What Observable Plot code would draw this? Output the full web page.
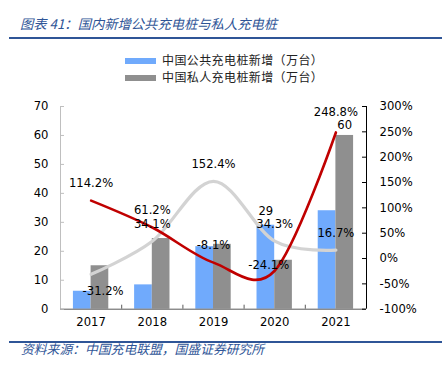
<!DOCTYPE html>
<html>
<head>
<meta charset="utf-8">
<script src="https://cdn.jsdelivr.net/npm/d3@7"></script>
<script src="https://cdn.jsdelivr.net/npm/@observablehq/plot@0.6"></script>
<style>
  html, body { margin: 0; padding: 0; background: #fff; }
  #wrap { position: relative; width: 443px; height: 371px; overflow: hidden; background: #fff; }
  .title { position: absolute; left: 20px; top: 14px; line-height: 20px; font-family: "Noto Sans CJK SC", sans-serif; font-style: italic; font-size: 13.3px; color: #2f5597; white-space: nowrap; }
  .rule { position: absolute; left: 9px; width: 433px; height: 2px; background: #2f5597; }
  .legend { position: absolute; left: 125px; font-family: "Noto Sans CJK SC", sans-serif; font-size: 12px; letter-spacing: 0.4px; color: #222; white-space: nowrap; line-height: 16px; }
  .legend span.sw { display: inline-block; width: 31px; height: 6px; vertical-align: middle; margin-right: 6px; position: relative; top: -1px; }
  .caption { position: absolute; left: 21px; top: 340px; line-height: 18px; font-family: "Noto Sans CJK SC", sans-serif; font-style: italic; font-size: 12.8px; color: #2f5597; white-space: nowrap; }
  #chart { position: absolute; left: 0; top: 90px; }
</style>
</head>
<body>
<div id="wrap">
  <div class="title">图表 41：国内新增公共充电桩与私人充电桩</div>
  <div class="rule" style="top:37px"></div>
  <div class="legend" id="leg1" style="top:52px"></div>
  <div class="legend" id="leg2" style="top:69px"></div>
  <div id="chart"></div>
  <div class="rule" style="top:341px"></div>
  <div class="caption">资料来源：中国充电联盟，国盛证券研究所</div>
</div>
<script>
// ---- data ----
const years = [2017, 2018, 2019, 2020, 2021];
const publicNew = [6.2, 8.4, 21.6, 29, 34];          // 中国公共充电桩新增（万台）
const privateNew = [15, 24.4, 22.4, 16.9, 60];        // 中国私人充电桩新增（万台）
const publicGrowth = [-31.2, 34.1, 152.4, 34.3, 16.7];   // 公共 YoY %
const privateGrowth = [114.2, 61.2, -8.1, -24.1, 248.8]; // 私人 YoY %
const leftTicks = [0, 10, 20, 30, 40, 50, 60, 70];
const rightTicks = [-100, -50, 0, 50, 100, 150, 200, 250, 300];
const seriesNames = ["中国公共充电桩新增（万台）", "中国私人充电桩新增（万台）"];
const publicLabelYears = [2020];
const privateLabelYears = [2021];

const colors = {pub: "#70aafc", pri: "#8f8f8f", pubLine: "#d3d3d3", priLine: "#c00000"};

// legend
document.getElementById("leg1").innerHTML = `<span class="sw" style="background:${colors.pub}"></span>${seriesNames[0]}`;
document.getElementById("leg2").innerHTML = `<span class="sw" style="background:${colors.pri}"></span>${seriesNames[1]}`;

const rows = years.map((year, i) => ({year, pub: publicNew[i], pri: privateNew[i], pubG: publicGrowth[i], priG: privateGrowth[i]}));

// right axis (-100%..300%) mapped onto left axis domain (0..70)
const toLeft = p => (p + 100) / 400 * 70;
const pct = v => v.toFixed(1) + "%";
const BW = 0.289;            // bar width, in category units
const X0 = 2016.5, X1 = 2021.5;
const W = 443, H = 250, ML = 60, MR = 77, MT = 16, MB = 31.3;
const pxX = (X1 - X0) / (W - ML - MR);  // x units per pixel
const pxY = 70 / (H - MT - MB);         // y units per pixel
const TICK = 4;
const gaps = [2017.5, 2018.5, 2019.5, 2020.5];

const fs = 11.6;
const chart = Plot.plot({
  width: W,
  height: H,
  marginLeft: ML,
  marginRight: MR,
  marginTop: MT,
  marginBottom: MB,
  style: {fontFamily: "DejaVu Sans, sans-serif", fontSize: fs + "px", color: "#000", background: "#fff"},
  x: {type: "linear", domain: [X0, X1], axis: null},
  y: {domain: [0, 70], axis: null},
  marks: [
    Plot.rectY(rows, {x1: d => d.year - BW, x2: d => d.year, y: "pub", fill: colors.pub}),
    Plot.rectY(rows, {x1: d => d.year, x2: d => d.year + BW, y: "pri", fill: colors.pri}),
    // axis lines
    Plot.ruleX([X0], {stroke: "#bfbfbf"}),
    Plot.ruleX([X1], {stroke: "#000"}),
    Plot.ruleY([0], {stroke: "#595959"}),
    // left axis ticks + labels
    Plot.ruleY(leftTicks, {y: d => d, x1: X0, x2: X0 + TICK * pxX, stroke: "#bfbfbf"}),
    Plot.text(leftTicks, {y: d => d, frameAnchor: "left", textAnchor: "end", dx: -12, text: d => String(d), fontSize: fs, fill: "#000"}),
    // right axis ticks + labels
    Plot.ruleY(rightTicks, {y: d => toLeft(d), x1: X1 - TICK * pxX, x2: X1, stroke: "#000"}),
    Plot.text(rightTicks, {y: d => toLeft(d), frameAnchor: "right", textAnchor: "start", dx: 13, text: d => d + "%", fontSize: fs, fill: "#000"}),
    // x axis ticks + labels
    Plot.ruleX(gaps, {x: d => d, y1: 0, y2: TICK * pxY, stroke: "#595959"}),
    Plot.text(years, {x: d => d, frameAnchor: "bottom", dy: 17, text: d => String(d), fontSize: fs, fill: "#000"}),
    // lines
    Plot.line(rows, {x: "year", y: d => toLeft(d.pubG), stroke: colors.pubLine, strokeWidth: 3.2, curve: "cardinal"}),
    Plot.line(rows, {x: "year", y: d => toLeft(d.priG), stroke: colors.priLine, strokeWidth: 2.6, curve: "cardinal"}),
    // growth labels
    Plot.text(rows.filter(d => d.year !== 2017), {x: "year", y: d => toLeft(d.pubG), text: d => pct(d.pubG), dy: -17, fontSize: fs, fill: "#000"}),
    Plot.text(rows.filter(d => d.year === 2017), {x: "year", y: d => toLeft(d.pubG), text: d => pct(d.pubG), dy: 17, dx: 12, fontSize: fs, fill: "#000"}),
    Plot.text(rows.filter(d => d.year !== 2020 && d.year !== 2021), {x: "year", y: d => toLeft(d.priG), text: d => pct(d.priG), dy: -17, fontSize: fs, fill: "#000"}),
    Plot.text(rows.filter(d => d.year === 2021), {x: "year", y: d => toLeft(d.priG), text: d => pct(d.priG), dy: -20, fontSize: fs, fill: "#000"}),
    Plot.text(rows.filter(d => d.year === 2020), {x: "year", y: d => toLeft(d.priG), text: d => pct(d.priG), dy: -5, dx: -6, fontSize: fs, fill: "#000"}),
    // bar value labels
    Plot.text(rows.filter(d => publicLabelYears.includes(d.year)), {x: d => d.year - BW / 2, y: "pub", text: d => String(d.pub), dy: -14, fontSize: fs, fill: "#000"}),
    Plot.text(rows.filter(d => privateLabelYears.includes(d.year)), {x: d => d.year + BW / 2, y: "pri", text: d => String(d.pri), dy: -10, fontSize: fs, fill: "#000"})
  ]
});
document.getElementById("chart").appendChild(chart);
</script>
</body>
</html>
